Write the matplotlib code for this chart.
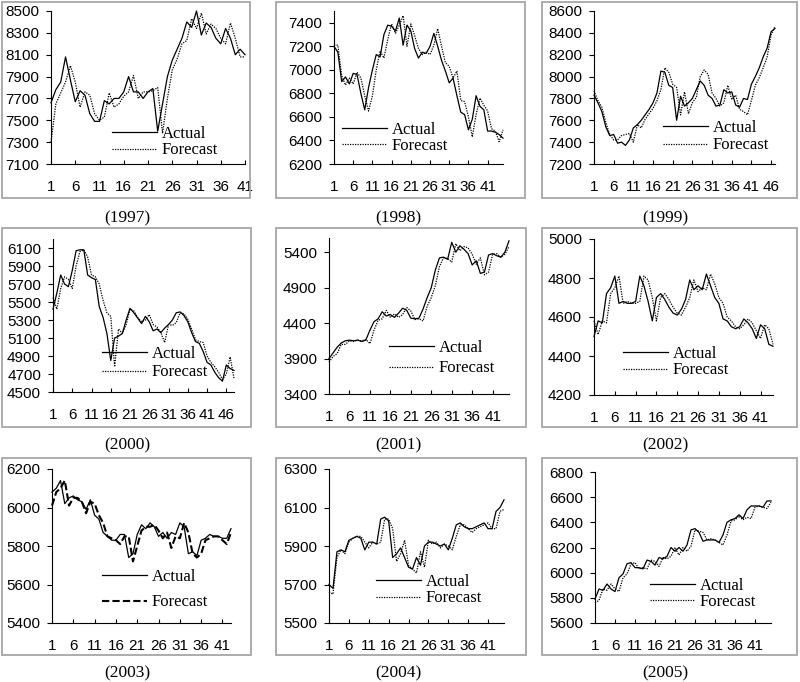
import numpy as np
import matplotlib.pyplot as plt
from matplotlib.patches import Rectangle

# monthly index values, actual vs forecast, one panel per year
years = ['1997', '1998', '1999', '2000', '2001', '2002', '2003', '2004', '2005']

actual_1997 = [7660, 7780, 7850, 8080, 7870, 7670, 7770, 7730, 7560, 7490, 7490, 7680, 7650, 7700,
               7700, 7760, 7900, 7760, 7760, 7700, 7760, 7790, 7400, 7650, 7900, 8050, 8150, 8250,
               8400, 8350, 8500, 8280, 8390, 8350, 8250, 8200, 8340, 8250, 8100, 8150, 8100]
forecast_1997 = [7300, 7650, 7750, 7850, 8000, 7850, 7620, 7760, 7730, 7560, 7500, 7530, 7750, 7620,
                 7650, 7720, 7760, 7910, 7700, 7760, 7760, 7770, 7800, 7380, 7700, 7960, 8060, 8200,
                 8230, 8430, 8340, 8480, 8290, 8380, 8340, 8250, 8200, 8390, 8250, 8080, 8080]

actual_1998 = [7200, 7150, 6900, 6940, 6880, 6970, 6960, 6800, 6660, 6850, 7000, 7130, 7110, 7300,
               7380, 7370, 7330, 7440, 7210, 7380, 7330, 7180, 7100, 7150, 7140, 7200, 7310, 7200,
               7080, 6990, 6890, 6930, 6780, 6640, 6620, 6490, 6580, 6780, 6690, 6660, 6480, 6480,
               6470, 6450, 6420]
forecast_1998 = [7210, 7210, 6950, 6870, 6930, 6880, 6980, 6930, 6780, 6650, 6780, 7000, 7160, 7100,
                 7260, 7390, 7310, 7380, 7460, 7200, 7390, 7290, 7180, 7130, 7150, 7130, 7210, 7350,
                 7200, 7060, 7030, 6930, 6990, 6740, 6730, 6600, 6430, 6620, 6760, 6700, 6650, 6500,
                 6480, 6390, 6490]

actual_1999 = [7830, 7760, 7680, 7540, 7460, 7470, 7390, 7400, 7370, 7420, 7530, 7560, 7600, 7650,
               7700, 7760, 7850, 8050, 8040, 7920, 7900, 7600, 7820, 7730, 7760, 7800, 7880, 7960,
               7920, 7830, 7800, 7730, 7740, 7880, 7850, 7860, 7740, 7720, 7800, 7790, 7930, 8000,
               8080, 8180, 8260, 8410, 8440]
forecast_1999 = [7870, 7780, 7720, 7580, 7470, 7420, 7420, 7460, 7470, 7480, 7400, 7560, 7530, 7610,
                 7660, 7710, 7780, 7880, 8080, 8040, 7930, 7900, 7650, 7860, 7660, 7760, 7810, 8000,
                 8060, 8020, 7850, 7800, 7730, 7760, 7920, 7790, 7830, 7700, 7680, 7650, 7780, 7920,
                 7990, 8080, 8180, 8380, 8460]

actual_2000 = [5420, 5600, 5800, 5700, 5670, 5850, 6070, 6080, 6080, 5800, 5770, 5750, 5450, 5330,
               5150, 4850, 5100, 5120, 5150, 5300, 5430, 5380, 5320, 5260, 5340, 5280, 5180, 5200,
               5160, 5210, 5250, 5300, 5380, 5390, 5350, 5280, 5160, 5060, 5040, 4950, 4830, 4800,
               4720, 4660, 4620, 4800, 4760, 4740]
forecast_2000 = [5550, 5420, 5650, 5780, 5750, 5650, 5900, 6060, 6080, 6000, 5800, 5780, 5700, 5520,
                 5380, 5340, 4780, 5200, 5150, 5250, 5420, 5400, 5330, 5280, 5300, 5360, 5250, 5220,
                 5160, 5050, 5250, 5240, 5270, 5380, 5370, 5310, 5200, 5080, 5060, 5050, 4900, 4830,
                 4780, 4720, 4640, 4700, 4890, 4650]

actual_2001 = [3900, 3980, 4060, 4120, 4150, 4160, 4150, 4160, 4140, 4160, 4300, 4420, 4460, 4560,
               4500, 4520, 4480, 4540, 4610, 4580, 4470, 4460, 4470, 4600, 4760, 4900, 5150, 5320,
               5330, 5300, 5540, 5400, 5490, 5440, 5380, 5220, 5280, 5100, 5120, 5360, 5380, 5350,
               5330, 5400, 5560]
forecast_2001 = [3850, 3930, 3970, 4100, 4100, 4150, 4140, 4160, 4150, 4170, 4110, 4300, 4440, 4460,
                 4580, 4480, 4530, 4480, 4520, 4620, 4570, 4450, 4460, 4430, 4640, 4760, 4930, 5200,
                 5320, 5310, 5260, 5520, 5420, 5480, 5460, 5370, 5230, 5320, 5080, 5120, 5370, 5380,
                 5330, 5370, 5480]

actual_2002 = [4500, 4580, 4570, 4720, 4750, 4810, 4670, 4680, 4670, 4670, 4680, 4810, 4760, 4680,
               4580, 4700, 4720, 4690, 4650, 4620, 4610, 4640, 4690, 4790, 4740, 4760, 4740, 4820,
               4760, 4700, 4670, 4590, 4580, 4550, 4540, 4550, 4590, 4570, 4540, 4490, 4560, 4540,
               4460, 4450]
forecast_2002 = [4580, 4510, 4580, 4570, 4720, 4750, 4810, 4670, 4680, 4670, 4670, 4680, 4810, 4790,
                 4700, 4580, 4700, 4720, 4690, 4650, 4620, 4610, 4650, 4700, 4790, 4730, 4750, 4740,
                 4820, 4770, 4700, 4670, 4600, 4580, 4550, 4540, 4560, 4590, 4570, 4530, 4490, 4560,
                 4540, 4460]

actual_2003 = [6080, 6100, 6140, 6020, 6050, 6060, 6040, 6030, 5990, 6040, 5960, 5940, 5870, 5850,
               5830, 5830, 5860, 5860, 5740, 5760, 5860, 5910, 5890, 5920, 5900, 5850, 5870, 5840,
               5870, 5860, 5920, 5900, 5760, 5770, 5750, 5830, 5840, 5860, 5850, 5850, 5840, 5840,
               5890]
forecast_2003 = [6010, 6080, 6100, 6140, 6010, 6050, 6050, 6030, 5970, 6030, 6020, 5960, 5920, 5850,
                 5840, 5830, 5810, 5850, 5850, 5720, 5800, 5880, 5900, 5900, 5910, 5880, 5840, 5870,
                 5790, 5850, 5840, 5920, 5870, 5760, 5740, 5760, 5830, 5840, 5850, 5850, 5830, 5810,
                 5870]

actual_2004 = [5700, 5680, 5870, 5880, 5870, 5930, 5940, 5950, 5940, 5880, 5920, 5920, 5910, 6040,
               6050, 6030, 5840, 5860, 5890, 5840, 5790, 5780, 5840, 5800, 5900, 5920, 5920, 5910,
               5900, 5910, 5880, 5940, 6010, 6020, 6000, 5990, 5990, 6000, 6010, 6020, 5990, 5990,
               6080, 6100, 6140]
forecast_2004 = [5660, 5650, 5840, 5880, 5860, 5920, 5940, 5950, 5950, 5920, 5890, 5920, 5910, 5920,
                 6040, 6040, 5990, 5820, 5860, 5930, 5800, 5780, 5760, 5870, 5790, 5930, 5910, 5920,
                 5890, 5910, 5900, 5880, 5950, 6010, 6010, 5990, 5970, 5990, 6000, 6010, 6020, 5990,
                 5990, 6080, 6090]

actual_2005 = [5790, 5870, 5860, 5910, 5870, 5850, 5960, 5990, 6070, 6080, 6040, 6040, 6030, 6100,
               6090, 6060, 6120, 6110, 6130, 6200, 6170, 6200, 6170, 6220, 6340, 6350, 6320, 6250,
               6260, 6260, 6260, 6240, 6300, 6400, 6420, 6430, 6460, 6430, 6500, 6530, 6530, 6530,
               6520, 6570, 6570]
forecast_2005 = [5760, 5780, 5870, 5860, 5910, 5870, 5850, 5960, 5990, 6070, 6080, 6030, 6040, 6030,
                 6100, 6090, 6050, 6120, 6110, 6130, 6200, 6140, 6200, 6170, 6210, 6340, 6330, 6320,
                 6260, 6270, 6260, 6240, 6220, 6300, 6410, 6420, 6450, 6420, 6440, 6430, 6520, 6530,
                 6520, 6510, 6560]

actuals = [actual_1997, actual_1998, actual_1999, actual_2000, actual_2001,
           actual_2002, actual_2003, actual_2004, actual_2005]
forecasts = [forecast_1997, forecast_1998, forecast_1999, forecast_2000, forecast_2001,
             forecast_2002, forecast_2003, forecast_2004, forecast_2005]

# y tick labels shown on each panel, plus the top of each y axis
yticks = [np.arange(7100, 8501, 200), np.arange(6200, 7401, 200), np.arange(7200, 8601, 200),
          np.arange(4500, 6101, 200), np.arange(3400, 5401, 500), np.arange(4200, 5001, 200),
          np.arange(5400, 6201, 200), np.arange(5500, 6301, 200), np.arange(5600, 6801, 200)]
ytop = [8500, 7500, 8600, 6200, 5600, 5000, 6200, 6300, 6800]

# layout, in pixels of the 800x682 picture
W, H = 800, 682
ax_px = [(51, 11, 245, 164), (334, 11, 503, 164), (594, 11, 775, 164),
         (53, 239, 234, 392), (329, 238, 509, 394), (594, 239, 773, 395),
         (52, 469, 231, 623), (329, 469, 504, 623), (595, 472, 771, 623)]
box_px = [(2, 2, 250, 198), (276, 2, 525, 198), (542, 2, 797, 198),
          (2, 228, 251, 427), (276, 228, 526, 427), (542, 228, 797, 427),
          (2, 458, 251, 655), (276, 458, 526, 655), (542, 458, 797, 655)]
label_px = [(127, 218), (398, 218), (665, 218),
            (127, 445), (398, 445), (665, 445),
            (127, 673), (398, 673), (665, 673)]
# legend: handle start x, Actual row y, Forecast row y
leg_px = [(112, 133, 151), (342, 129, 146), (663, 127, 146),
          (102, 353, 373), (389, 347, 369), (623, 353, 371),
          (102, 576, 603), (376, 581, 599), (650, 585, 602)]

fig = plt.figure(figsize=(8, 6.82), dpi=100)
fig.patch.set_facecolor('white')

for k in range(9):
    l, t, r, b = ax_px[k]
    ax = fig.add_axes([l / W, 1 - b / H, (r - l) / W, (b - t) / H])
    act = actuals[k]
    fc = forecasts[k]
    x = np.arange(1, len(act) + 1)
    ax.plot(x, act, color='black', lw=0.9, label='Actual', clip_on=False)
    if years[k] == '2003':
        ax.plot(x, fc, color='black', lw=1.5, ls=(0, (3.5, 1.5)), label='Forecast', clip_on=False)
    else:
        ax.plot(x, fc, color='black', lw=0.9, ls=(0, (1, 1)), label='Forecast', clip_on=False)
    ax.set_xlim(1, len(act))
    ax.set_ylim(yticks[k][0], ytop[k])
    ax.set_xticks(np.arange(1, len(act) + 1, 5))
    ax.set_yticks(yticks[k])
    for s in ['top', 'right']:
        ax.spines[s].set_visible(False)
    for s in ['left', 'bottom']:
        ax.spines[s].set_linewidth(0.8)
    ax.tick_params(axis='x', direction='in', length=3, width=0.8, pad=11.5, labelsize=11)
    ax.tick_params(axis='y', direction='out', length=3.6, width=0.8, pad=5, labelsize=11)
    for lab in ax.get_xticklabels() + ax.get_yticklabels():
        lab.set_family('Liberation Sans')
    ax.patch.set_alpha(0)

    lx, ya, yf = leg_px[k]
    gap = yf - ya
    ax.legend(loc='center left', bbox_to_anchor=(lx / W, 1 - (ya + yf) / 2 / H),
              bbox_transform=fig.transFigure, frameon=False, borderpad=0, borderaxespad=0,
              handlelength=2.7, handletextpad=0.3, labelspacing=max(gap - 17, 0) / 16.7,
              prop={'family': 'Liberation Serif', 'size': 12})

    bl, bt, br, bb = box_px[k]
    fig.patches.append(Rectangle((bl / W, 1 - bb / H), (br - bl) / W, (bb - bt) / H,
                                 transform=fig.transFigure, fill=False,
                                 edgecolor='#a6a6a6', lw=1.3))
    cx, cy = label_px[k]
    fig.text(cx / W, 1 - cy / H, '(' + years[k] + ')', ha='center', va='center',
             family='Liberation Serif', fontsize=12.5)

fig.savefig('out.png', dpi=100, facecolor='white')
